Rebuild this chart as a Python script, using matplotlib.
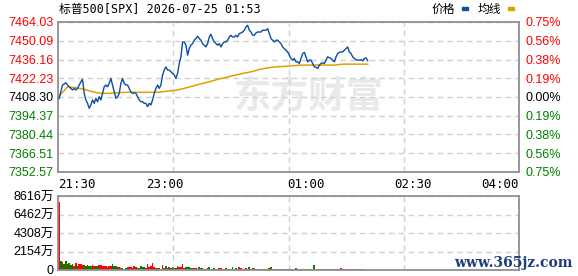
import numpy as np
import matplotlib
matplotlib.use("Agg")
import matplotlib.pyplot as plt

# ---------------- data ----------------
title = "标普500[SPX] 2026-07-25 01:53"
prev_close = 7408.30
y_ticks = [7352.57, 7366.51, 7380.44, 7394.37, 7408.30, 7422.23, 7436.16, 7450.09, 7464.03]
pct_labels = ["0.75%", "0.56%", "0.38%", "0.19%", "0.00%", "0.19%", "0.38%", "0.56%", "0.75%"]
time_labels = ["21:30", "23:00", "01:00", "02:30", "04:00"]
time_label_minutes = [0, 90, 210, 300, 390]
session_minutes = 390
first_minute, last_minute = 1, 262

price = [
    7407.3, 7412.2, 7417.2, 7417.9, 7418.9, 7417.2, 7415.9, 7414.7, 7413.5, 7414.7,
    7413.5, 7414.7, 7417.2, 7419.6, 7421.4, 7411.0, 7406.1, 7403.6, 7399.9, 7402.4,
    7406.1, 7403.6, 7407.3, 7404.8, 7408.5, 7406.1, 7411.0, 7415.9, 7417.2, 7415.9,
    7418.4, 7422.1, 7417.2, 7412.2, 7407.3, 7408.5, 7411.0, 7418.4, 7422.1, 7418.4,
    7417.2, 7417.2, 7414.7, 7412.2, 7411.0, 7411.5, 7411.0, 7408.5, 7406.1, 7404.8,
    7404.8, 7403.6, 7403.6, 7401.1, 7403.6, 7402.4, 7406.1, 7411.0, 7414.7, 7417.2,
    7414.7, 7417.2, 7424.6, 7428.3,
    7430.7, 7428.3, 7428.3, 7427.1, 7425.8, 7424.6, 7422.1, 7425.8, 7433.2, 7438.1,
    7449.2, 7449.2, 7446.8, 7439.4, 7444.3, 7446.8, 7448.0, 7450.5, 7451.7, 7453.4,
    7451.7, 7450.5, 7448.0, 7446.8, 7445.5, 7448.0, 7452.9, 7454.9, 7451.7, 7449.2,
    7448.0, 7446.8, 7448.0, 7445.5, 7448.0, 7449.2, 7449.2, 7450.5, 7452.9, 7454.2,
    7452.9, 7452.9, 7454.2, 7452.9, 7455.4, 7455.9, 7456.6, 7457.9, 7460.3, 7461.6,
    7457.9, 7456.6, 7454.2, 7454.2, 7455.9, 7456.6,
    7456.6, 7456.6, 7457.9, 7457.9, 7457.9, 7459.1, 7455.4, 7451.7, 7450.5, 7449.2,
    7450.5, 7450.5, 7449.2, 7448.0, 7445.5, 7444.3, 7443.1, 7441.8, 7439.4, 7436.9,
    7435.7, 7436.9, 7434.4, 7434.4, 7433.2, 7436.9, 7440.6, 7441.4, 7438.1, 7434.4,
    7435.7, 7435.7, 7433.2, 7430.7, 7430.3, 7429.5, 7432.0, 7433.2, 7433.7, 7433.2,
    7435.7, 7438.1, 7437.6, 7436.9, 7435.7, 7434.4, 7438.1, 7440.6, 7441.4, 7441.8,
    7441.8, 7443.1, 7444.3, 7445.5, 7441.8, 7440.6, 7438.1, 7436.9, 7436.0, 7435.7,
    7435.7, 7436.0, 7435.2, 7436.9, 7437.4, 7435.2,
]

# average line, read every 5th sample
avg_every = 5
avg = [
    7409.0, 7415.9, 7415.2, 7414.0, 7412.2, 7411.0, 7411.0, 7411.5, 7411.8, 7411.8,
    7411.8, 7411.8, 7411.8, 7412.7, 7413.3, 7414.7, 7416.4, 7418.1, 7419.6, 7421.4,
    7422.9, 7424.4, 7425.8, 7427.0, 7428.7, 7430.0, 7430.7, 7431.0, 7431.5, 7432.0,
    7432.0, 7432.0, 7432.0, 7432.0, 7432.7, 7432.7, 7432.7, 7432.7,
]

# volume in 万
vol_max = 8616
vol_ticks = [0, 2154, 4308, 6462, 8616]
volume = [
    7920, 1050, 930, 740, 1000, 660, 780, 560, 700, 500,
    820, 450, 660, 660, 620, 550, 520, 580, 470, 430,
    540, 500, 470, 430, 580, 540, 470, 430, 470, 400,
    470, 420, 660, 500, 470, 350, 300, 270, 230, 160,
    200, 390, 300, 310, 250, 470, 300, 270, 200, 430,
    300, 390, 250, 660, 300, 470, 815, 350, 270, 200,
    190, 160, 540, 250, 430, 200, 350, 200, 300, 270,
    195, 465, 390, 390, 700, 250, 350, 350, 300, 195,
    195, 190, 190, 150, 350, 200, 270, 116, 150, 230,
    350, 150, 160, 195, 100, 80, 230, 230, 100, 80,
    195, 120, 80, 100, 350, 150, 195, 120, 310, 195,
    120, 80, 270, 150, 310, 150, 230, 195, 116, 80,
    80, 80, 80, 100, 116, 80, 195, 350, 120, 80,
    116, 80, 80, 80, 80, 80, 100, 80, 116, 80,
    80, 80, 195, 80, 80, 80, 80, 80, 80, 80,
    80, 80, 80, 540, 80, 80, 116, 116, 80, 80,
    80, 80, 80, 80, 80, 80, 80, 80, 80, 270,
    80, 80, 80, 80, 80, 80, 80, 80, 80, 80,
    116, 80, 80, 80,
]
vol_dir = ("rgrggrggrg" "rgrrrggrgg" "rrggrrrrrr" "rrgggrrggg"
           "ggrrrrrggg" "ggrrrrrrgg" "rrrggrrggg" "rgrrrrgggg"
           "grrrgggrrr" "ggrggrrrrr" "ggrggggrrr" "ggrrgggrgg"
           "rrrrgrrggr" "gggggrrrrg" "ggggrrgggg" "grrgrrrrgg"
           "grrrrrggrr" "rggrrrrrrr" "rggg")

RED = "#ff0000"
GREEN = "#008000"
BLUE = "#0b4ea2"
GOLD = "#e0a000"
GRID = "#d0d0d0"
FRAME = "#909090"

plt.rcParams['font.family'] = ['Liberation Sans', 'Noto Sans CJK SC', 'DejaVu Sans']

fig = plt.figure(figsize=(5.78, 2.76), dpi=100)
W, H = 578, 276

def axrect(l, t, r, b):
    return [l / W, 1 - b / H, (r - l) / W, (b - t) / H]

ax = fig.add_axes(axrect(58, 22, 519, 172))
axv = fig.add_axes(axrect(58, 196, 519, 270))

t = np.linspace(first_minute, last_minute, len(price))
step = t[1] - t[0]
t_avg = t[::avg_every][:len(avg)]

# watermark
ax.text(0.545, 0.5, "东方财富", transform=ax.transAxes, ha="center", va="center",
        fontsize=27, fontweight="bold", color="#e9e9e9", family=['Noto Sans CJK SC'], zorder=0)

ax.plot(t, price, color=BLUE, lw=1.0, zorder=3)
ax.plot(t_avg, avg, color=GOLD, lw=1.1, zorder=2)

ax.set_xlim(0, session_minutes)
ax.set_ylim(y_ticks[0], y_ticks[-1])

quarters = np.linspace(0, session_minutes, 5)
for a in (ax, axv):
    a.set_xticks(quarters, minor=True)
    a.grid(True, which="minor", axis="x", color=GRID, ls=(0, (4, 3)), lw=1)
    a.grid(True, which="major", axis="y", color=GRID, ls=(0, (4, 3)), lw=1)
    a.grid(False, which="major", axis="x")
    for s in a.spines.values():
        s.set_color(FRAME)
        s.set_linewidth(1.3)
    a.tick_params(which="both", length=0)
    a.set_axisbelow(True)

ax.set_yticks(y_ticks)
ax.set_yticklabels([f"{v:.2f}" for v in y_ticks], fontsize=9)
for lab, v in zip(ax.get_yticklabels(), y_ticks):
    lab.set_color(RED if v > prev_close + 0.01 else (GREEN if v < prev_close - 0.01 else "black"))
ax.tick_params(axis="y", pad=3)

axr = ax.twinx()
axr.set_ylim(ax.get_ylim())
axr.set_yticks(y_ticks)
axr.set_yticklabels(pct_labels, fontsize=9)
for lab, v in zip(axr.get_yticklabels(), y_ticks):
    lab.set_color(RED if v > prev_close + 0.01 else (GREEN if v < prev_close - 0.01 else "black"))
axr.tick_params(length=0, pad=5)
for s in axr.spines.values():
    s.set_visible(False)

ax.set_xticks(time_label_minutes)
ax.set_xticklabels(time_labels, fontsize=9, family=['DejaVu Sans Mono'])
xl = ax.get_xticklabels()
xl[0].set_ha("left")
xl[-1].set_ha("right")
ax.tick_params(axis="x", pad=4)

# volume
colors = [RED if c == "r" else GREEN for c in vol_dir[:len(volume)]]
axv.bar(t[:len(volume)], volume, width=step, color=colors, lw=0)
axv.set_xlim(0, session_minutes)
axv.set_ylim(0, vol_max)
axv.set_xticks([])
axv.set_yticks(vol_ticks)
axv.set_yticklabels(["0"] + [f"{v}万" for v in vol_ticks[1:]], fontsize=9)
axv.tick_params(axis="y", pad=3)

# title & legend
fig.text(59 / W, 1 - 9 / H, title, fontsize=8.5, va="center", ha="left",
         family=['DejaVu Sans Mono', 'Noto Sans CJK SC'])
fig.text(432 / W, 1 - 9 / H, "价格", fontsize=8.5, va="center", ha="left", family=['Noto Sans CJK SC'])
fig.patches.append(plt.Rectangle((462 / W, 1 - 10 / H), 6 / W, 3 / H, transform=fig.transFigure, color=BLUE))
fig.text(478 / W, 1 - 9 / H, "均线", fontsize=8.5, va="center", ha="left", family=['Noto Sans CJK SC'])
fig.patches.append(plt.Rectangle((508 / W, 1 - 10 / H), 6 / W, 3 / H, transform=fig.transFigure, color=GOLD))

fig.text(513 / W, 1 - 263 / H, "www.365jz.com", fontsize=10, va="center", ha="center",
         color="#1f3f7a", family=['DejaVu Serif'], fontweight="bold")

fig.savefig("out.png", dpi=100)
